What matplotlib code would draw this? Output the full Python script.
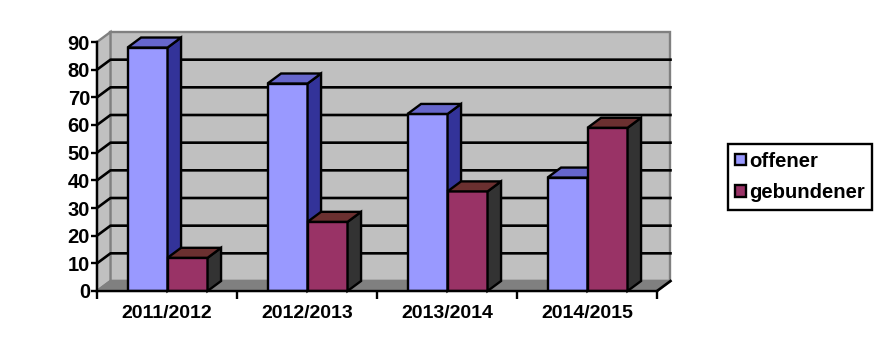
import matplotlib
matplotlib.use("Agg")
import matplotlib.pyplot as plt
from matplotlib.patches import Patch

years = ["2011/2012", "2012/2013", "2013/2014", "2014/2015"]
offener = [88, 75, 64, 41]
gebundener = [12, 25, 36, 59]
y_ticks = [0, 10, 20, 30, 40, 50, 60, 70, 80, 90]

W, H = 887, 355
plt.rcParams["font.family"] = ["Liberation Sans", "DejaVu Sans"]
plt.rcParams["font.weight"] = "bold"

fig = plt.figure(figsize=(W / 100, H / 100), dpi=100)
ax = fig.add_axes([97 / W, 1 - 291 / H, 560 / W, 249 / H])
ax.set_xlim(0, len(years))
ax.set_ylim(0, 90)

# depth of the fake 3d box, in data units
dx = 13.5 / 140
dy = 10 / 249 * 90
bar_w = 40 / 140
lw = 1.7


def side_and_top(x, w, v, side, top):
    ax.fill([x + w, x + w + dx, x + w + dx, x + w], [0, dy, v + dy, v],
            fc=side, ec="black", lw=lw, zorder=5, clip_on=False)
    ax.fill([x, x + dx, x + w + dx, x + w], [v, v + dy, v + dy, v],
            fc=top, ec="black", lw=lw, zorder=5, clip_on=False)


# walls and floor
n = len(years)
ax.fill([dx, n + dx, n + dx, dx], [dy, dy, 90 + dy, 90 + dy], fc="#c0c0c0",
        ec="#808080", lw=lw, zorder=1, clip_on=False)
ax.fill([0, dx, dx, 0], [0, dy, 90 + dy, 90], fc="#c0c0c0",
        ec="#808080", lw=lw, zorder=1, clip_on=False)
ax.fill([0, dx, n + dx, n], [0, dy, dy, 0], fc="#808080",
        ec="#808080", lw=lw, zorder=1, clip_on=False)

for v in y_ticks[1:-1]:
    ax.plot([0, dx, n + dx], [v, v + dy, v + dy], color="black", lw=1.9,
            zorder=2, clip_on=False)
ax.plot([n, n + dx], [0, dy], color="black", lw=1.9, zorder=2, clip_on=False)

for i in range(n):
    c = i + 0.504
    ax.bar(c - bar_w, offener[i], bar_w, align="edge", color="#9999ff",
           ec="black", lw=lw, zorder=5)
    side_and_top(c - bar_w, bar_w, offener[i], "#333399", "#6666cc")
    ax.bar(c, gebundener[i], bar_w, align="edge", color="#993366",
           ec="black", lw=lw, zorder=5)
    side_and_top(c, bar_w, gebundener[i], "#333333", "#6b3030")

ax.patch.set_visible(False)
for s in ["top", "right"]:
    ax.spines[s].set_visible(False)
for s in ["left", "bottom"]:
    ax.spines[s].set_linewidth(lw)
    ax.spines[s].set_zorder(6)

ax.set_yticks(y_ticks)
ax.tick_params(axis="y", length=4, width=lw, pad=1, labelsize=14.5)
ax.set_xticks(range(n + 1))
ax.set_xticklabels([])
ax.set_xticks([i + 0.5 for i in range(n)], years, minor=True)
ax.tick_params(axis="x", which="major", length=6, width=lw)
ax.tick_params(axis="x", which="minor", length=0, pad=10, labelsize=14)

handles = [Patch(fc="#9999ff", ec="black", lw=lw, label="offener"),
           Patch(fc="#993366", ec="black", lw=lw, label="gebundener")]
leg = fig.legend(handles=handles, loc="center", bbox_to_anchor=(800 / W, 1 - 177 / H),
                 fontsize=14.6, fancybox=False, framealpha=1, edgecolor="black",
                 handlelength=0.55, handleheight=0.5, handletextpad=0.12,
                 labelspacing=0.62, borderpad=0.36, borderaxespad=0)
leg.get_frame().set_linewidth(lw)

fig.savefig("out.png", dpi=100)
